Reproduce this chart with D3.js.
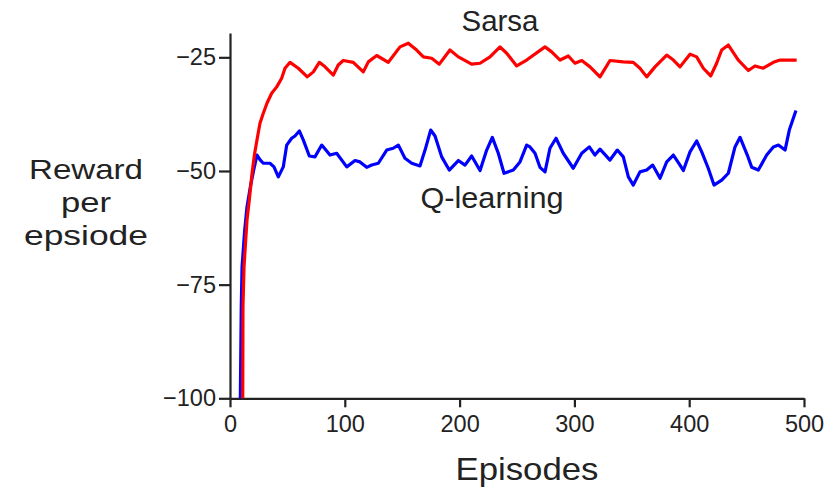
<!DOCTYPE html>
<html>
<head>
<meta charset="utf-8">
<script src="https://cdn.jsdelivr.net/npm/d3@7"></script>
<style>
  html, body { margin: 0; padding: 0; background: #fff; }
  svg { display: block; }
  text { font-family: "Liberation Sans", Arial, Helvetica, sans-serif; fill: #222; }
</style>
</head>
<body>
<svg id="chart" width="836" height="488"></svg>
<script>
// ---- Data ----
const xTicks = [0, 100, 200, 300, 400, 500];
const yTicks = [-100, -75, -50, -25];

const sarsaEpisodes = [11.1, 11.3, 12.2, 14.8, 16.8, 19.2, 21.5, 23.5, 26.1, 29.0, 32.2, 36.3, 40.7, 45.0, 47.9, 52.3,
  59.5, 67.3, 72.6, 77.8, 82.8, 90.0, 94.3, 98.7, 107.4, 116.1, 120.5, 127.8, 137.9, 148.1, 155.3, 162.6, 168.4,
  175.7, 182.3, 191.6, 198.9, 210.5, 217.8, 226.5, 235.2, 241.0, 249.7, 258.4, 274.4, 280.2, 287.5, 294.7, 300.5,
  306.4, 313.6, 322.3, 331.0, 342.6, 351.3, 357.1, 363.0, 370.2, 380.4, 386.2, 392.0, 400.7, 406.5, 412.3, 418.7,
  423.9, 428.3, 434.1, 442.8, 451.5, 457.3, 464.5, 473.3, 479.1, 487.8, 493.6];
const sarsaReward = [-100, -79.9, -71.1, -60.8, -56.4, -50.5, -46.1, -43.2, -39.5, -37.3, -35.1, -32.9, -31.5, -29.6, -27.4, -26.1,
  -27.4, -29.3, -28.2, -26.1, -27.1, -28.9, -26.7, -25.7, -26.1, -28.2, -26.0, -24.6, -26.1, -22.7, -21.9, -23.4, -24.9,
  -25.2, -26.5, -23.4, -24.9, -26.5, -26.3, -24.9, -22.7, -24.1, -26.9, -25.6, -22.7, -23.8, -25.6, -24.7, -26.3,
  -25.7, -27.1, -29.3, -25.7, -26.0, -26.1, -27.4, -29.3, -27.1, -24.5, -25.6, -27.1, -24.3, -24.9, -27.4, -29.1,
  -26.3, -23.4, -22.3, -25.6, -27.9, -26.9, -27.4, -26.1, -25.6, -25.6, -25.6];

const qEpisodes = [9.0, 9.8, 10.5, 12.8, 14.8, 17.7, 20.6, 23.5, 26.4, 29.0, 34.8, 38.3, 42.1, 46.4, 49.4, 53.7, 56.6,
  60.4, 63.9, 69.1, 74.0, 79.9, 87.1, 92.9, 101.7, 108.9, 113.2, 119.1, 123.4, 129.2, 136.5, 142.2, 146.6, 152.4,
  158.3, 165.5, 169.9, 174.8, 178.6, 184.4, 191.0, 198.9, 204.7, 210.5, 217.8, 223.6, 228.5, 233.7, 238.7, 246.8,
  252.6, 258.4, 261.3, 265.7, 270.0, 274.4, 278.7, 284.0, 290.3, 299.0, 306.4, 313.0, 317.9, 322.3, 331.0, 337.4,
  342.6, 347.0, 351.3, 357.1, 363.0, 368.2, 374.6, 380.4, 386.2, 392.0, 394.9, 400.7, 406.5, 410.9, 416.6, 421.6,
  428.3, 434.1, 439.9, 444.3, 450.6, 454.5, 460.2, 467.5, 473.3, 477.7, 483.5, 487.2, 493.0];
const qReward = [-100, -79.9, -71.1, -63.0, -57.9, -53.5, -49.8, -46.5, -47.6, -48.3, -48.3, -49.1, -51.3, -49.1, -44.3, -42.8, -42.3,
  -41.2, -43.2, -46.7, -46.9, -44.3, -46.5, -46.1, -49.1, -47.7, -48.0, -49.2, -48.7, -48.3, -45.4, -45.0, -44.3, -47.2,
  -48.3, -48.9, -45.4, -41.0, -42.3, -46.9, -49.8, -47.7, -48.7, -46.7, -49.9, -45.4, -42.6, -46.1, -50.5, -49.8,
  -48.0, -44.3, -44.7, -46.1, -49.2, -50.2, -45.0, -42.8, -46.1, -49.4, -46.1, -44.7, -46.5, -45.2, -47.6, -45.4,
  -46.9, -51.3, -53.1, -50.2, -49.8, -48.7, -51.6, -48.0, -46.5, -48.7, -49.9, -45.8, -43.4, -45.8, -49.4, -53.1,
  -52.0, -50.5, -44.7, -42.6, -46.5, -49.2, -49.8, -46.5, -44.7, -44.3, -45.4, -41.0, -36.7];

const seriesLabels = ["Sarsa", "Q-learning"];
const xTitle = "Episodes";
const yTitleLines = ["Reward", "per", "epsiode"];

// ---- Drawing ----
const svg = d3.select("#chart");
svg.append("rect").attr("width", 836).attr("height", 488).attr("fill", "#fff");

const x = d3.scaleLinear().domain([0, 500]).range([230, 804]);
const y = d3.scaleLinear().domain([-100, -19.65]).range([398.3, 33]);

const axisColor = "#222";

const xAxis = svg.append("g")
  .attr("transform", `translate(0,${y(-100)})`)
  .call(d3.axisBottom(x).tickValues(xTicks).tickSize(9).tickSizeOuter(0).tickPadding(8).tickFormat(d3.format("d")));
const yAxis = svg.append("g")
  .attr("transform", `translate(${x(0)},0)`)
  .call(d3.axisLeft(y).tickValues(yTicks).tickSize(11).tickSizeOuter(0).tickPadding(3).tickFormat(d3.format("d")));

[xAxis, yAxis].forEach(g => {
  g.select(".domain").attr("stroke", axisColor).attr("stroke-width", 2.2);
  g.selectAll(".tick line").attr("stroke", axisColor).attr("stroke-width", 2.2);
  g.selectAll(".tick text").attr("fill", "#222").style("font-size", "23.5px")
    .style("font-family", '"Liberation Sans", Arial, sans-serif');
});

const line = d3.line().x(d => x(d[0])).y(d => y(d[1]));
const qData = qEpisodes.map((e, i) => [e, qReward[i]]);
const sData = sarsaEpisodes.map((e, i) => [e, sarsaReward[i]]);

svg.append("path").datum(qData).attr("d", line)
  .attr("fill", "none").attr("stroke", "#0000ff").attr("stroke-width", 3.2)
  .attr("stroke-linejoin", "round").attr("stroke-linecap", "butt");
svg.append("path").datum(sData).attr("d", line)
  .attr("fill", "none").attr("stroke", "#ff0000").attr("stroke-width", 3.2)
  .attr("stroke-linejoin", "round").attr("stroke-linecap", "butt");

// Series labels
svg.append("text").attr("x", 500).attr("y", 31).attr("text-anchor", "middle")
  .style("font-size", "29px").attr("textLength", 77).attr("lengthAdjust", "spacingAndGlyphs")
  .text(seriesLabels[0]);
svg.append("text").attr("x", 492).attr("y", 208).attr("text-anchor", "middle")
  .style("font-size", "29.5px").attr("textLength", 143).attr("lengthAdjust", "spacingAndGlyphs")
  .text(seriesLabels[1]);

// Axis titles
svg.append("text").attr("x", 527).attr("y", 480).attr("text-anchor", "middle")
  .style("font-size", "32px").attr("textLength", 143).attr("lengthAdjust", "spacingAndGlyphs")
  .text(xTitle);
const yBase = [179, 212, 245];
const yLens = [114, 50, 124];
yTitleLines.forEach((t, i) => {
  svg.append("text").attr("x", 86).attr("y", yBase[i]).attr("text-anchor", "middle")
    .style("font-size", "28.5px").attr("textLength", yLens[i]).attr("lengthAdjust", "spacingAndGlyphs")
    .text(t);
});
</script>
</body>
</html>
